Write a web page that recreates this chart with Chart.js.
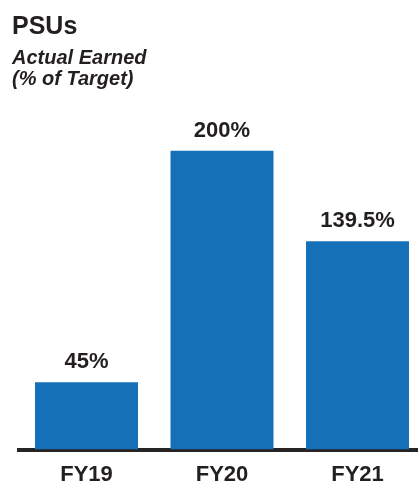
<!DOCTYPE html>
<html>
<head>
<meta charset="utf-8">
<script src="https://cdn.jsdelivr.net/npm/chart.js@4/dist/chart.umd.min.js"></script>
<style>
  html, body { margin:0; padding:0; background:#fff; width:418px; height:485px; overflow:hidden; }
  #wrap { position:absolute; left:0; top:0; width:430px; height:500px; }
  .t { position:absolute; left:12px; font-family:"Liberation Sans", Arial, sans-serif; font-weight:bold; color:#231f20; white-space:nowrap; line-height:1; }
  #t1 { top:13px; font-size:25px; }
  #t2 { top:47px; font-size:20px; font-style:italic; }
  #t3 { top:68px; font-size:20px; font-style:italic; }
</style>
</head>
<body>
<div id="wrap"><canvas id="c" width="430" height="500"></canvas></div>
<div class="t" id="t1">PSUs</div>
<div class="t" id="t2">Actual Earned</div>
<div class="t" id="t3">(% of Target)</div>
<script>
const categories = ["FY19", "FY20", "FY21"];
const values = [45, 200, 139.5];
const valueLabels = ["45%", "200%", "139.5%"];

const ink = "#231f20";
const font = "'Liberation Sans', Arial, sans-serif";

const valueLabelPlugin = {
  id: "valueLabels",
  afterDatasetsDraw(chart) {
    const ctx = chart.ctx;
    const meta = chart.getDatasetMeta(0);
    ctx.save();
    ctx.fillStyle = ink;
    ctx.font = "bold 22px " + font;
    ctx.textAlign = "center";
    ctx.textBaseline = "alphabetic";
    meta.data.forEach((bar, i) => {
      ctx.fillText(valueLabels[i], bar.x, bar.y - 14);
    });
    ctx.restore();
  }
};

new Chart(document.getElementById("c"), {
  type: "bar",
  data: {
    labels: categories,
    datasets: [{
      data: values,
      backgroundColor: "#1570b8",
      borderWidth: 0,
      barPercentage: 0.76,
      categoryPercentage: 1.0
    }]
  },
  options: {
    responsive: false,
    animation: false,
    devicePixelRatio: 1,
    layout: { padding: { left: 18.75, right: 4.75, top: 91, bottom: 0 } },
    plugins: { legend: { display: false }, tooltip: { enabled: false }, title: { display: false } },
    scales: {
      x: {
        z: 1,
        grid: { display: true, drawOnChartArea: false, drawTicks: false, color: "rgba(0,0,0,0)" },
        border: { display: true, color: "#262424", width: 4 },
        ticks: { color: ink, font: { family: font, size: 22, weight: "bold" }, padding: 12 }
      },
      y: {
        display: false,
        min: 0,
        max: 240
      }
    }
  },
  plugins: [valueLabelPlugin]
});
</script>
</body>
</html>
